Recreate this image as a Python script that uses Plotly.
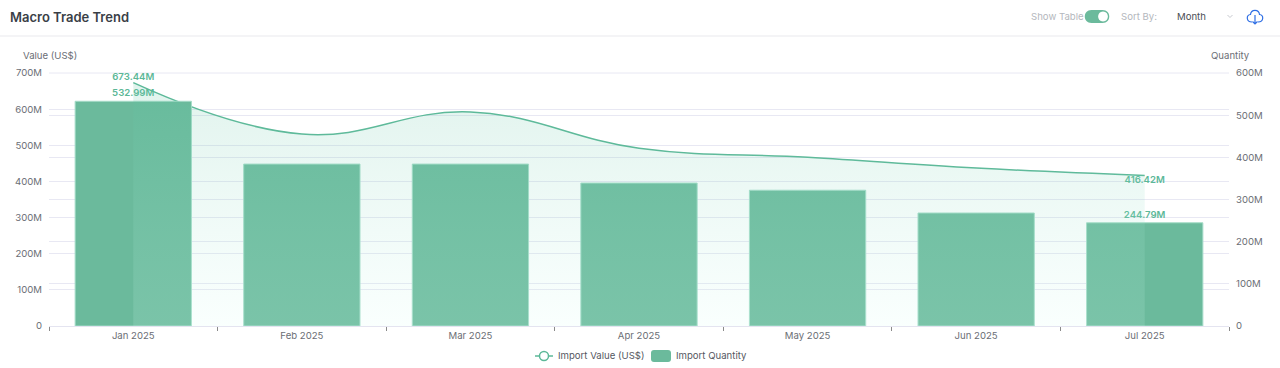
import plotly.graph_objects as go

months = ["Jan 2025", "Feb 2025", "Mar 2025", "Apr 2025", "May 2025", "Jun 2025", "Jul 2025"]
import_value = [673.44e6, 531e6, 592e6, 492e6, 467e6, 437e6, 416.42e6]
import_quantity = [532.99e6, 384e6, 384e6, 339e6, 322e6, 268e6, 244.79e6]
value_labels = ["673.44M", "", "", "", "", "", "416.42M"]
value_label_positions = ["top center", "top center", "top center", "top center", "top center", "top center", "bottom center"]
quantity_labels = ["532.99M", "", "", "", "", "", "244.79M"]
value_name = "Import Value (US$)"
quantity_name = "Import Quantity"

GREEN = "#5CB898"
BAR = "#6BBA9C"
GRID = "#E8E8F3"
TXT = "#6B6E75"
FONT = "Inter, Roboto, sans-serif"
SIZE = 9.6
SMOOTH = 1.2

L, R, T, B = 49, 1229, 73, 326


def px(x):
    return (x - L) / (R - L)


def py(y):
    return (B - y) / (B - T)


fig = go.Figure()

# line below bars
fig.add_trace(go.Scatter(
    x=months, y=import_value, yaxis="y", mode="lines+text", name=value_name,
    line=dict(color=GREEN, width=1.5, shape="spline", smoothing=SMOOTH),
    text=value_labels, textposition=value_label_positions,
    textfont=dict(color=GREEN, size=SIZE, family=FONT, weight=600), cliponaxis=False,
    hoverinfo="skip",
))
fig.add_trace(go.Bar(
    x=months, y=import_quantity, yaxis="y2", name=quantity_name,
    marker=dict(color=BAR, line=dict(width=1, color="#A5DCC8")), width=0.69,
    text=quantity_labels, textposition="outside", cliponaxis=False,
    textfont=dict(color=GREEN, size=SIZE, family=FONT, weight=600),
))
# translucent area over the bars
fig.add_trace(go.Scatter(
    x=months, y=import_value, yaxis="y3", mode="none",
    fill="tozeroy", line=dict(shape="spline", smoothing=SMOOTH),
    fillgradient=dict(type="vertical", colorscale=[[0, "rgba(215,255,245,0.14)"], [1, "rgba(85,190,155,0.18)"]]),
    hoverinfo="skip",
))

axis_font = dict(family=FONT, size=SIZE, color=TXT)


def label(text, x, y, font):
    return dict(text=text, x=px(x), y=py(y), xref="paper", yref="paper", xanchor="left",
                yanchor="middle", showarrow=False, font=font)


fig.update_layout(
    width=1280, height=368, autosize=False, showlegend=False,
    margin=dict(l=L, r=1280 - R, t=T, b=368 - B, pad=0),
    paper_bgcolor="white", plot_bgcolor="white",
    font=dict(family=FONT, size=SIZE, color=TXT),
    bargap=0.31,
    xaxis=dict(type="category", range=[-0.5, 6.5], tickson="boundaries", ticks="outside", ticklen=4,
               tickcolor="#8A8A8A", tickwidth=1, showgrid=False, showline=True, linecolor="#E4E4F0",
               linewidth=1, tickfont=axis_font, zeroline=False),
    yaxis=dict(range=[0, 700e6], dtick=100e6, tickformat="~s", gridcolor=GRID, gridwidth=1, zeroline=False,
               tickfont=axis_font, ticks="", showline=False, ticklabelstandoff=6),
    yaxis2=dict(range=[0, 600e6], dtick=100e6, tickformat="~s", gridcolor=GRID, gridwidth=1, zeroline=False,
                overlaying="y", side="right", tickfont=axis_font, ticks="", showline=False, ticklabelstandoff=6),
    yaxis3=dict(range=[0, 700e6], overlaying="y", visible=False, showgrid=False),
    annotations=[
        label("Macro Trade Trend", 8, 17, dict(family=FONT, size=13, color="#3A3F47", weight=600)),
        label("Value (US$)", 21, 56, axis_font),
        label("Quantity", 1209, 56, axis_font),
        label("Show Table", 1029, 16.5, dict(family=FONT, size=SIZE, color="#B4B7BD")),
        label("Sort By:", 1119, 16.5, dict(family=FONT, size=SIZE, color="#B4B7BD")),
        label("Month", 1175, 16.5, dict(family=FONT, size=SIZE, color="#4A4D54")),
        label(value_name, 556, 355.5, dict(family=FONT, size=SIZE, color="#55585F")),
        label(quantity_name, 674, 355.5, dict(family=FONT, size=SIZE, color="#55585F")),
    ],
)


def pts(seq):
    out = []
    for item in seq:
        cmd, *vals = item
        coords = [f"{px(vals[i])},{py(vals[i + 1])}" for i in range(0, len(vals), 2)]
        out.append(cmd + " ".join(coords))
    return " ".join(out)


def shape(path, **kw):
    fig.add_shape(type="path", path=path, xref="paper", yref="paper", layer="above", **kw)


# top grid line, which Plotly leaves out at the end of the axis range
fig.add_shape(type="line", xref="paper", yref="paper", x0=0, x1=1, y0=1, y1=1,
              line=dict(color=GRID, width=1), layer="below")
# header divider
fig.add_shape(type="line", xref="paper", yref="paper", x0=px(0), x1=px(1280), y0=py(36), y1=py(36),
              line=dict(color="#F1F1F3", width=1.5), layer="above")
# toggle
shape(pts([("M", 1091.5, 10), ("L", 1102.5, 10), ("C", 1111.5, 10, 1111.5, 23, 1102.5, 23), ("L", 1091.5, 23),
           ("C", 1082.5, 23, 1082.5, 10, 1091.5, 10), ("Z",)]), fillcolor=BAR, line=dict(width=0))
shape(pts([("M", 1103, 11.5), ("C", 1109.5, 11.5, 1109.5, 21.5, 1103, 21.5), ("C", 1096.5, 21.5, 1096.5, 11.5, 1103, 11.5), ("Z",)]),
      fillcolor="white", line=dict(width=0))
# dropdown chevron
shape(pts([("M", 1227.5, 15), ("L", 1230, 17.5), ("L", 1232.5, 15)]), line=dict(color="#C8CAD0", width=1))
# cloud download icon
shape(pts([("M", 1252, 22), ("C", 1246, 22, 1246, 15, 1250.5, 14.5), ("C", 1251, 9, 1259, 9, 1259.5, 14.5),
           ("C", 1264, 15, 1264, 22, 1258, 22)]), line=dict(color="#2F6FE4", width=1.2))
shape(pts([("M", 1255, 15), ("L", 1255, 23.5), ("M", 1252.5, 21.5), ("L", 1255, 24), ("L", 1257.5, 21.5)]),
      line=dict(color="#2F6FE4", width=1.2))
# legend keys
shape(pts([("M", 535, 356), ("L", 553, 356)]), line=dict(color=GREEN, width=1.5))
fig.add_shape(type="circle", xref="paper", yref="paper", x0=px(539.5), x1=px(548.5), y0=py(351.5), y1=py(360.5),
              fillcolor="white", line=dict(color=GREEN, width=1.5), layer="above")
shape(pts([("M", 654, 350), ("L", 668, 350), ("Q", 671, 350, 671, 353), ("L", 671, 359), ("Q", 671, 362, 668, 362),
           ("L", 654, 362), ("Q", 651, 362, 651, 359), ("L", 651, 353), ("Q", 651, 350, 654, 350), ("Z",)]),
      fillcolor=BAR, line=dict(width=0))

fig.write_html("out.html", post_script="document.body.style.margin='0';", config={"displayModeBar": False})
